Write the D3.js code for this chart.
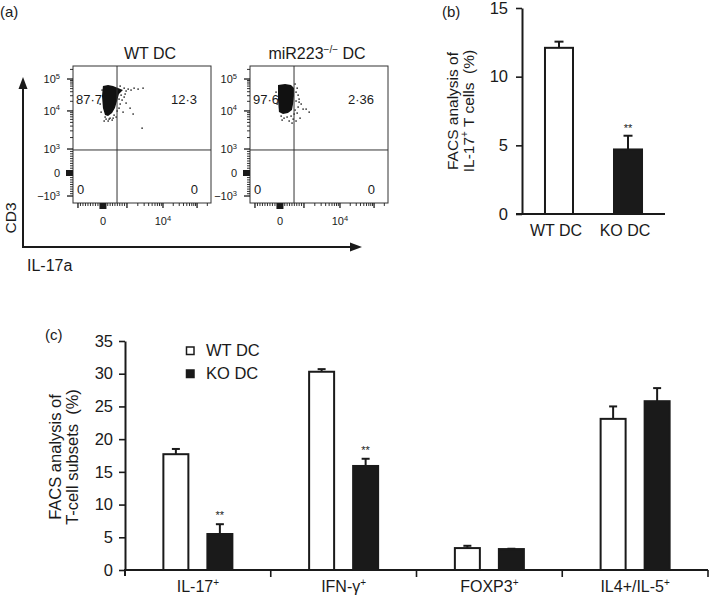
<!DOCTYPE html>
<html><head><meta charset="utf-8">
<script src="https://cdn.jsdelivr.net/npm/d3@7"></script>
<style>
body{margin:0;background:#fff}
svg{display:block;background:#fff}
text{font-family:"Liberation Sans",Arial,Helvetica,sans-serif;fill:#1a1a1a}
</style>
</head><body>
<svg id="fig" width="709" height="602"></svg>
<script>
// ---------------- DATA ----------------
// Panel (a): flow cytometry dot plots (channel units 0-1000)
const flowSamples = ["WT DC", "miR223^−/− DC"];
const quadrantPercents = [[87.7, 12.3, 0, 0], [97.6, 2.36, 0, 0]]; // UL, UR, LL, LR
const gateX = 319, gateY = 387;
const yTickLabels = ["−10^3", "0", "10^3", "10^4", "10^5"];
const yTickChannels = [51, 219, 394, 672, 905];
const xTickValues = [-1000, 0, 1000, 10000, 100000];
const xTickChannels = [36, 217, 391, 652, 899];
const xTickLabels = ["", "0", "", "10^4", ""];
const tickValuesRaw = [-1000, 0, 1000, 10000, 100000];
// dense population outlines [x, y] in channels
const blobWT = [[217,854],[254,861],[290,854],[326,839],[362,825],[333,796],[319,745],[304,693],[283,657],[254,635],[232,642],[217,693],[210,781]];
const blobKO = [[203,861],[254,869],[297,861],[319,839],[319,781],[312,723],[304,679],[275,657],[239,650],[210,664],[203,752]];
// sparse events [x, y] in channels
const dotsWT = [[341,854],[370,839],[384,818],[399,832],[420,825],[442,839],[471,832],[507,839],[348,788],[370,774],[355,752],[341,723],[384,730],[333,693],[362,664],[319,672],[297,642],[268,620],[239,613],[225,599],[254,599],[283,606],[203,664],[196,723],[210,825],[413,693],[435,650],[500,547],[312,628],[333,759],[377,796],[326,810],[232,628],[261,613],[290,620]];
const dotsKO = [[326,869],[341,839],[333,810],[348,788],[355,759],[333,745],[370,723],[348,701],[384,686],[326,679],[341,657],[297,635],[268,628],[246,620],[312,613],[333,599],[225,635],[283,599],[304,584],[406,686],[428,664],[362,620],[196,723],[188,810],[319,650],[355,737],[232,606]];

// Panel (b)
const catB = ["WT DC", "KO DC"];
const valB = [12.1, 4.7];
const errB = [0.45, 1.0];
const sigB = ["", "**"];
const ticksB = [0, 5, 10, 15];

// Panel (c)
const categoriesC = ["IL-17+", "IFN-γ+", "FOXP3+", "IL4+/IL-5+"];
const seriesC = ["WT DC", "KO DC"];
const wtValues = [17.7, 30.3, 3.35, 23.1];
const wtErrors = [0.8, 0.4, 0.35, 1.9];
const koValues = [5.5, 15.9, 3.2, 25.8];
const koErrors = [1.5, 1.1, 0.05, 2.0];
const koSig = ["**", "**", "", ""];
const ticksC = [0, 5, 10, 15, 20, 25, 30, 35];

// ---------------- DRAW ----------------
const FONT = '"Liberation Sans",Arial,Helvetica,sans-serif';
const INK = "#1a1a1a";
const svg = d3.select("#fig");

function supText(sel, str, supSize, dy) {
  const m = str.match(/^([^\^]*)\^([^ ]*)(.*)$/);
  if (!m) { sel.text(str); return; }
  sel.append("tspan").text(m[1]);
  sel.append("tspan").attr("font-size", supSize).attr("dy", -dy).text(m[2]);
  if (m[3]) sel.append("tspan").attr("dy", dy).text(m[3]);
}
function plusSup(sel, str, supSize, dy) {
  if (str.endsWith("+")) {
    sel.append("tspan").text(str.slice(0, -1));
    sel.append("tspan").attr("font-size", supSize).attr("dy", -dy).text("+");
  } else sel.text(str);
}

// ---- Panel (a) ----
svg.append("text").attr("x", 0).attr("y", 17).attr("font-size", 15).text("(a)");

function chOf(v, vals, chs) {
  if (Math.abs(v) <= 1000) {
    if (v <= 0) return chs[0] + (v + 1000) / 1000 * (chs[1] - chs[0]);
    return chs[1] + v / 1000 * (chs[2] - chs[1]);
  }
  const l = Math.log10(v);
  if (l <= 4) return chs[2] + (l - 3) * (chs[3] - chs[2]);
  return chs[3] + (l - 4) * (chs[4] - chs[3]);
}
const minorVals = [];
for (let v = -900; v <= 900; v += 100) if (v !== 0) minorVals.push(v);
for (let d = 3; d <= 5; d++) for (let m = 2; m <= 9; m++) minorVals.push(m * Math.pow(10, d));

const plotLefts = [73, 250];
const titleDx = [8, -2];
const boxW = 138, boxTop = 66, boxBot = 203;

flowSamples.forEach((name, i) => {
  const L = plotLefts[i];
  const g = svg.append("g");
  const xs = d3.scaleLinear().domain([0, 1000]).range([L, L + boxW]);
  const ys = d3.scaleLinear().domain([0, 1000]).range([boxBot, boxTop]);

  const blob = i === 0 ? blobWT : blobKO;
  const dots = i === 0 ? dotsWT : dotsKO;
  g.append("path")
    .attr("d", d3.line().x(d => xs(d[0])).y(d => ys(d[1])).curve(d3.curveLinearClosed)(blob))
    .attr("fill", "#111");
  g.selectAll("rect.ev").data(dots).join("rect").attr("class", "ev")
    .attr("x", d => xs(d[0]) - 0.6).attr("y", d => ys(d[1]) - 0.6)
    .attr("width", 1.4).attr("height", 1.4).attr("fill", "#111");

  g.append("rect").attr("x", L).attr("y", boxTop).attr("width", boxW).attr("height", boxBot - boxTop)
    .attr("fill", "none").attr("stroke", "#333").attr("stroke-width", 1);
  g.append("line").attr("x1", xs(gateX)).attr("x2", xs(gateX)).attr("y1", boxTop).attr("y2", boxBot)
    .attr("stroke", "#333").attr("stroke-width", 1);
  g.append("line").attr("x1", L).attr("x2", L + boxW).attr("y1", ys(gateY)).attr("y2", ys(gateY))
    .attr("stroke", "#333").attr("stroke-width", 1);

  minorVals.forEach(v => {
    const c = chOf(v, tickValuesRaw, yTickChannels);
    if (c < 0 || c > 1000) return;
    g.append("line").attr("x1", L - 3).attr("x2", L).attr("y1", ys(c)).attr("y2", ys(c)).attr("stroke", INK).attr("stroke-width", 0.9);
  });
  yTickChannels.forEach((c, k) => {
    g.append("line").attr("x1", L - 6).attr("x2", L).attr("y1", ys(c)).attr("y2", ys(c)).attr("stroke", INK).attr("stroke-width", 1.3);
    const t = g.append("text").attr("x", L - 13).attr("y", ys(c) + 4).attr("text-anchor", "end").attr("font-size", 11);
    supText(t, yTickLabels[k], 7.5, 4.5);
  });
  g.append("rect").attr("x", L - 7).attr("y", ys(219) - 3).attr("width", 7).attr("height", 6).attr("fill", INK);

  minorVals.forEach(v => {
    const c = chOf(v, xTickValues, xTickChannels);
    if (c < 0 || c > 1000) return;
    g.append("line").attr("x1", xs(c)).attr("x2", xs(c)).attr("y1", boxBot).attr("y2", boxBot + 3).attr("stroke", INK).attr("stroke-width", 0.9);
  });
  xTickChannels.forEach((c, k) => {
    g.append("line").attr("x1", xs(c)).attr("x2", xs(c)).attr("y1", boxBot).attr("y2", boxBot + 5).attr("stroke", INK).attr("stroke-width", 1.3);
    if (xTickLabels[k]) {
      const t = g.append("text").attr("x", xs(c)).attr("y", 225).attr("text-anchor", "middle").attr("font-size", 11);
      supText(t, xTickLabels[k], 7.5, 4.5);
    }
  });
  g.append("rect").attr("x", xs(217) - 3.5).attr("y", boxBot).attr("width", 7).attr("height", 6).attr("fill", INK);

  const tt = g.append("text").attr("x", L + boxW / 2 + titleDx[i]).attr("y", 59).attr("text-anchor", "middle").attr("font-size", 16);
  supText(tt, name, 10, 6);

  const fmt = v => (v === 0 ? "0" : String(v).replace(".", "·"));
  const q = quadrantPercents[i];
  g.append("text").attr("x", L + 3).attr("y", 104).attr("font-size", 13).text(fmt(q[0]));
  g.append("text").attr("x", L + 124).attr("y", 104).attr("text-anchor", "end").attr("font-size", 13).text(fmt(q[1]));
  g.append("text").attr("x", L + 4).attr("y", 194).attr("font-size", 13).text(fmt(q[2]));
  g.append("text").attr("x", L + 125).attr("y", 194).attr("text-anchor", "end").attr("font-size", 13).text(fmt(q[3]));
});

svg.append("path").attr("d", "M23,247 L23,86 M22,247 L351,247").attr("stroke", INK).attr("stroke-width", 2).attr("fill", "none");
svg.append("path").attr("d", "M23,77 L18.5,89 L27.5,89 Z").attr("fill", INK);
svg.append("path").attr("d", "M362,247 L350,242.5 L350,251.5 Z").attr("fill", INK);
svg.append("text").attr("transform", "translate(15.5,218) rotate(-90)").attr("text-anchor", "middle").attr("font-size", 15.5).text("CD3");
svg.append("text").attr("x", 27).attr("y", 271).attr("font-size", 16).text("IL-17a");

// ---- Panel (b) ----
svg.append("text").attr("x", 442).attr("y", 17).attr("font-size", 15).text("(b)");
const yB = d3.scaleLinear().domain([0, 15]).range([214, 8]);
const xB = d3.scaleBand().domain(catB).range([522, 665]).paddingInner(0.594).paddingOuter(0.333);
const axB = svg.append("g").attr("transform", "translate(522,0)")
  .call(d3.axisLeft(yB).tickValues(ticksB).tickSize(6).tickSizeOuter(0).tickPadding(8));
axB.attr("font-size", 16.5).attr("font-family", FONT);
axB.select(".domain").attr("stroke", INK).attr("stroke-width", 2);
axB.selectAll(".tick line").attr("stroke", INK).attr("stroke-width", 1.6);
axB.selectAll(".tick text").attr("fill", INK);
svg.append("line").attr("x1", 516).attr("x2", 665).attr("y1", 214).attr("y2", 214).attr("stroke", INK).attr("stroke-width", 2);
catB.forEach((c, i) => {
  const x = xB(c), w = xB.bandwidth(), cx = x + w / 2;
  const top = yB(valB[i] + errB[i]);
  svg.append("line").attr("x1", cx).attr("x2", cx).attr("y1", yB(valB[i])).attr("y2", top).attr("stroke", INK).attr("stroke-width", 2);
  svg.append("line").attr("x1", cx - 4.5).attr("x2", cx + 4.5).attr("y1", top).attr("y2", top).attr("stroke", INK).attr("stroke-width", 2);
  svg.append("rect").attr("x", x).attr("y", yB(valB[i])).attr("width", w).attr("height", 214 - yB(valB[i]))
    .attr("fill", i === 0 ? "#fff" : INK).attr("stroke", INK).attr("stroke-width", 2);
  if (sigB[i]) svg.append("text").attr("x", cx).attr("y", top - 4).attr("text-anchor", "middle").attr("font-size", 11).text(sigB[i]);
  svg.append("text").attr("x", cx - 3).attr("y", 236).attr("text-anchor", "middle").attr("font-size", 16).text(c);
});
const tB = svg.append("text").attr("transform", "translate(458,111) rotate(-90)").attr("text-anchor", "middle").attr("font-size", 15.5);
tB.text("FACS analysis of");
const tB2 = svg.append("text").attr("transform", "translate(474,111) rotate(-90)").attr("text-anchor", "middle").attr("font-size", 15.5);
tB2.append("tspan").text("IL-17");
tB2.append("tspan").attr("font-size", 10).attr("dy", -6).text("+");
tB2.append("tspan").attr("dy", 6).text(" T cells\u00a0\u00a0(%)");

// ---- Panel (c) ----
svg.append("text").attr("x", 45).attr("y", 340).attr("font-size", 15).text("(c)");
const yC = d3.scaleLinear().domain([0, 35]).range([570, 341]);
const xC = d3.scaleBand().domain(categoriesC).range([125, 708]);
const xSub = d3.scaleBand().domain(seriesC).range([0, xC.step()]).paddingInner(0.432).paddingOuter(0.872);
const axC = svg.append("g").attr("transform", "translate(125,0)")
  .call(d3.axisLeft(yC).tickValues(ticksC).tickSize(6).tickSizeOuter(0).tickPadding(6));
axC.attr("font-size", 16.5).attr("font-family", FONT);
axC.select(".domain").attr("stroke", INK).attr("stroke-width", 2);
axC.selectAll(".tick line").attr("stroke", INK).attr("stroke-width", 1.6);
axC.selectAll(".tick text").attr("fill", INK);
svg.append("line").attr("x1", 124).attr("x2", 708).attr("y1", 570).attr("y2", 570).attr("stroke", INK).attr("stroke-width", 2);
svg.append("line").attr("x1", 125).attr("x2", 125).attr("y1", 570).attr("y2", 576).attr("stroke", INK).attr("stroke-width", 2);
categoriesC.forEach((c, i) => {
  const x0 = xC(c);
  const xe = x0 + xC.step();
  svg.append("line").attr("x1", xe).attr("x2", xe).attr("y1", 570).attr("y2", 577).attr("stroke", INK).attr("stroke-width", 1.6);
  const t = svg.append("text").attr("x", x0 + xC.step() / 2).attr("y", 592).attr("text-anchor", "middle").attr("font-size", 16);
  plusSup(t, c, 10, 6);
  [[wtValues, wtErrors, "#fff", ""], [koValues, koErrors, INK, koSig[i]]].forEach(([vals, errs, fill, sig], s) => {
    const bx = x0 + xSub(seriesC[s]), w = xSub.bandwidth(), cx = bx + w / 2;
    const v = vals[i], top = yC(v + errs[i]);
    svg.append("line").attr("x1", cx).attr("x2", cx).attr("y1", yC(v)).attr("y2", top).attr("stroke", INK).attr("stroke-width", 2);
    svg.append("line").attr("x1", cx - 4).attr("x2", cx + 4).attr("y1", top).attr("y2", top).attr("stroke", INK).attr("stroke-width", 2);
    svg.append("rect").attr("x", bx).attr("y", yC(v)).attr("width", w).attr("height", 570 - yC(v))
      .attr("fill", fill).attr("stroke", INK).attr("stroke-width", 2);
    if (sig) svg.append("text").attr("x", cx).attr("y", top - 5).attr("text-anchor", "middle").attr("font-size", 11).text(sig);
  });
});
seriesC.forEach((s, i) => {
  const y = 347 + i * 23;
  svg.append("rect").attr("x", 186.5).attr("y", y).attr("width", 7.5).attr("height", 7.5)
    .attr("fill", i === 0 ? "#fff" : INK).attr("stroke", INK).attr("stroke-width", 1.5);
  svg.append("text").attr("x", 206).attr("y", y + 9).attr("font-size", 16.5).text(s);
});
svg.append("text").attr("transform", "translate(61,457) rotate(-90)").attr("text-anchor", "middle").attr("font-size", 16.5).text("FACS analysis of");
svg.append("text").attr("transform", "translate(78,457) rotate(-90)").attr("text-anchor", "middle").attr("font-size", 16.5).text("T-cell subsets\u00a0\u00a0(%)");
</script>
</body></html>
